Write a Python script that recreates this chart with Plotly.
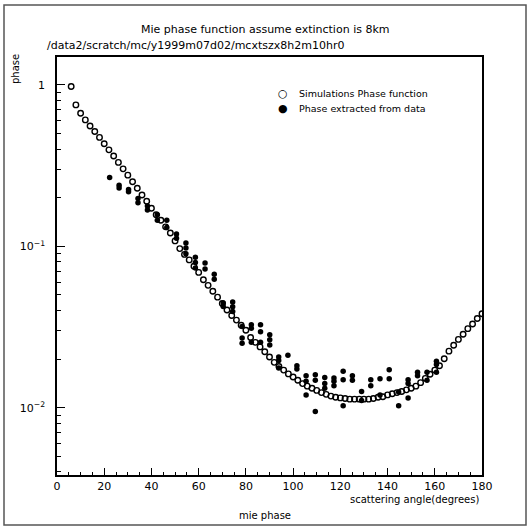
import plotly.graph_objects as go

# Simulated Mie phase function (open circles)
sim_angle = [6, 8, 10, 12, 14, 16, 18, 20, 22, 24, 26, 28, 30, 32, 34, 36, 38, 40,
             42, 44, 46, 48, 50, 52, 54, 56, 58, 60, 62, 64, 66, 68, 70, 72, 74, 76,
             78, 80, 82, 84, 86, 88, 90, 92, 94, 96, 98, 100, 102, 104, 106, 108,
             110, 112, 114, 116, 118, 120, 122, 124, 126, 128, 130, 132, 134, 136,
             138, 140, 142, 144, 146, 148, 150, 152, 154, 156, 158, 160, 162, 164,
             166, 168, 170, 172, 174, 176, 178, 180]
sim_phase = [0.977, 0.752, 0.668, 0.607, 0.557, 0.514, 0.473, 0.432, 0.396, 0.363,
             0.331, 0.302, 0.276, 0.251, 0.229, 0.208, 0.190, 0.172, 0.157, 0.145,
             0.132, 0.121, 0.108, 0.0968, 0.0891, 0.0824, 0.0753, 0.0689, 0.0621,
             0.0573, 0.0527, 0.0484, 0.0442, 0.0403, 0.0373, 0.0349, 0.0324, 0.0302,
             0.0272, 0.0254, 0.0238, 0.0222, 0.0206, 0.0191, 0.0180, 0.0171, 0.0162,
             0.0155, 0.0148, 0.0141, 0.0136, 0.0132, 0.0128, 0.0124, 0.0121, 0.0118,
             0.0116, 0.0115, 0.0114, 0.0113, 0.0113, 0.0113, 0.0113, 0.0113, 0.0114,
             0.0116, 0.0117, 0.0120, 0.0122, 0.0124, 0.0126, 0.0129, 0.0132, 0.0136,
             0.0143, 0.0152, 0.0161, 0.0171, 0.0182, 0.0201, 0.0224, 0.0244, 0.0265,
             0.0285, 0.0309, 0.0330, 0.0357, 0.0382]

# Phase extracted from data (filled circles)
data_angle = [22.3,
              26.3, 26.3,
              30.3, 30.3,
              34.3, 34.3,
              38.3, 38.3,
              42.5, 42.5,
              46.5, 46.5,
              50.6, 50.6,
              54.6, 54.6, 54.6,
              58.6, 58.6, 58.6,
              62.7, 62.7,
              66.6, 66.6,
              70.4, 70.4,
              74.4, 74.4, 74.4,
              78.4, 78.4, 78.4,
              82.3, 82.3, 82.3,
              86.2, 86.2, 86.2,
              90.1, 90.1, 90.1,
              93.9, 93.9, 93.9,
              97.8,
              101.6, 101.6,
              105.5, 105.5, 105.5,
              109.4, 109.4, 109.4,
              113.4, 113.4, 113.4,
              117.3, 117.3, 117.3,
              121.2, 121.2, 121.2,
              125.1, 125.1,
              129.0, 129.0,
              132.9, 132.9,
              136.8, 136.8,
              140.7, 140.7,
              144.7, 144.7,
              148.7, 148.7, 148.7,
              152.7, 152.7,
              156.7, 156.7,
              160.7, 160.7, 160.7]
data_phase = [0.267,
              0.239, 0.230,
              0.225, 0.218,
              0.198, 0.186,
              0.178, 0.168,
              0.157, 0.145,
              0.145, 0.131,
              0.119, 0.112,
              0.105, 0.0977, 0.0899,
              0.0857, 0.0794, 0.0733,
              0.0787, 0.0723,
              0.0671, 0.0624,
              0.0445, 0.0424,
              0.0451, 0.0422, 0.0394,
              0.0318, 0.0270, 0.0251,
              0.0327, 0.0311, 0.0254,
              0.0327, 0.0296, 0.0254,
              0.0283, 0.0264, 0.0245,
              0.0206, 0.0196, 0.0176,
              0.0211,
              0.0182, 0.0174,
              0.0158, 0.0146, 0.0120,
              0.0160, 0.0148, 0.00948,
              0.0154, 0.0141, 0.0132,
              0.0153, 0.0146, 0.0137,
              0.0168, 0.0149, 0.0103,
              0.0158, 0.0148,
              0.0126, 0.0111,
              0.0149, 0.0137,
              0.0151, 0.0120,
              0.0172, 0.0151,
              0.0125, 0.0103,
              0.0149, 0.0141, 0.0115,
              0.0166, 0.0158,
              0.0166, 0.0148,
              0.0194, 0.0185, 0.0166]

series_names = ["Simulations Phase function", "Phase extracted from data"]
legend_symbols = ["\u25CB", "\u25CF"]

x_ticks = [0, 20, 40, 60, 80, 100, 120, 140, 160, 180]
y_ticks = [0.01, 0.1, 1]
y_tick_text = ["10<sup>\u22122</sup>", "10<sup>\u22121</sup>", "1"]
y_minor = [0.004, 0.005, 0.006, 0.007, 0.008, 0.009,
           0.02, 0.03, 0.04, 0.05, 0.06, 0.07, 0.08, 0.09,
           0.2, 0.3, 0.4, 0.5, 0.6, 0.7, 0.8, 0.9]
x_minor = [5, 10, 15, 25, 30, 35, 45, 50, 55, 65, 70, 75, 85, 90, 95, 105, 110, 115,
           125, 130, 135, 145, 150, 155, 165, 170, 175]

FONT = "DejaVu Sans"

fig = go.Figure()
fig.add_trace(go.Scatter(
    x=sim_angle, y=sim_phase, mode="markers", name=series_names[0],
    marker=dict(symbol="circle-open", size=5.5, color="black", line=dict(width=1.4))))
fig.add_trace(go.Scatter(
    x=data_angle, y=data_phase, mode="markers", name=series_names[1],
    marker=dict(symbol="circle", size=5.5, color="black")))

fig.update_layout(
    width=530, height=528,
    margin=dict(l=57, r=48, t=57, b=53),
    paper_bgcolor="white", plot_bgcolor="white",
    font=dict(family=FONT, size=11, color="black"),
    showlegend=False,
    xaxis=dict(range=[0, 180], tickvals=x_ticks, ticks="inside", ticklen=7,
               tickwidth=1, tickcolor="black", showgrid=False, zeroline=False,
               showline=True, linecolor="black", linewidth=1.5, mirror=True,
               tickfont=dict(size=11, family=FONT),
               minor=dict(tickvals=x_minor, ticks="inside", ticklen=3,
                          tickcolor="black", showgrid=False)),
    yaxis=dict(type="log", range=[-2.417, 0.173], tickvals=y_ticks,
               ticktext=y_tick_text, ticks="inside", ticklen=8, tickwidth=1,
               tickcolor="black", showgrid=False, zeroline=False,
               showline=True, linecolor="black", linewidth=1.5, mirror=True,
               ticklabelstandoff=8, tickfont=dict(size=11, family=FONT),
               minor=dict(tickvals=y_minor, ticks="inside", ticklen=4,
                          tickcolor="black", showgrid=False)),
)

def px(xp):
    return (xp - 57) / 425

def py(yp):
    return (475 - yp) / 418

# manual legend
for i, (sym, name) in enumerate(zip(legend_symbols, series_names)):
    yy = 94 + 14 * i
    fig.add_annotation(text=sym, xref="paper", yref="paper", x=px(283), y=py(yy),
                       xanchor="center", yanchor="middle", showarrow=False,
                       font=dict(size=11, family=FONT))
    fig.add_annotation(text=name, xref="paper", yref="paper", x=px(297), y=py(yy),
                       xanchor="left", yanchor="middle", showarrow=False,
                       font=dict(size=9.5, family=FONT))

fig.add_annotation(text="Mie phase function assume extinction is 8km",
                   xref="paper", yref="paper", x=px(265), y=py(29),
                   xanchor="center", yanchor="middle", showarrow=False,
                   font=dict(size=11, family=FONT))
fig.add_annotation(text="/data2/scratch/mc/y1999m07d02/mcxtszx8h2m10hr0",
                   xref="paper", yref="paper", x=px(45), y=py(46),
                   xanchor="left", yanchor="middle", showarrow=False,
                   font=dict(size=11, family=FONT))
fig.add_annotation(text="scattering angle(degrees)",
                   xref="paper", yref="paper", x=px(481), y=py(500),
                   xanchor="right", yanchor="middle", showarrow=False,
                   font=dict(size=10, family=FONT))
fig.add_annotation(text="mie phase",
                   xref="paper", yref="paper", x=px(265), y=py(515),
                   xanchor="center", yanchor="middle", showarrow=False,
                   font=dict(size=10, family=FONT))
fig.add_annotation(text="phase", textangle=-90,
                   xref="paper", yref="paper", x=px(15), y=py(69),
                   xanchor="center", yanchor="middle", showarrow=False,
                   font=dict(size=10, family=FONT))

fig.add_shape(type="rect", xref="paper", yref="paper",
              x0=px(4), x1=px(526), y0=py(525), y1=py(5),
              line=dict(color="#555555", width=1.5))

fig.write_html("out.html")
